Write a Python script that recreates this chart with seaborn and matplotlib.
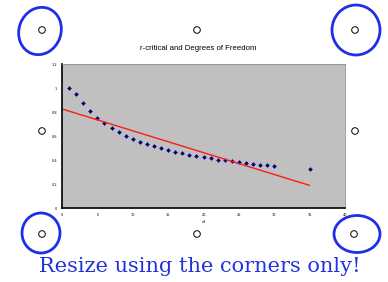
import numpy as np
import pandas as pd
import matplotlib
matplotlib.use("Agg")
import matplotlib.pyplot as plt
import seaborn as sns
from matplotlib.patches import Ellipse, Circle

# Data: critical r values (two-tailed, alpha = .05) by degrees of freedom
df_vals = [1, 2, 3, 4, 5, 6, 7, 8, 9, 10, 11, 12, 13, 14, 15, 16, 17, 18, 19, 20,
           21, 22, 23, 24, 25, 26, 27, 28, 29, 30, 35]
r_crit = [0.997, 0.950, 0.878, 0.811, 0.754, 0.707, 0.666, 0.632, 0.602, 0.576,
          0.553, 0.532, 0.514, 0.497, 0.482, 0.468, 0.456, 0.444, 0.433, 0.423,
          0.413, 0.404, 0.396, 0.388, 0.381, 0.374, 0.367, 0.361, 0.355, 0.349, 0.325]
x_ticks = [0, 5, 10, 15, 20, 25, 30, 35, 40]
y_ticks = [0, 0.2, 0.4, 0.6, 0.8, 1.0, 1.2]
y_tick_labels = ["0", "0.2", "0.4", "0.6", "0.8", "1", "1.2"]
title = "r-critical and Degrees of Freedom"
x_label = "df"
note = "Resize using the corners only!"

data = pd.DataFrame({"df": df_vals, "r": r_crit})
slope, intercept = np.polyfit(df_vals, r_crit, 1)
trend = pd.DataFrame({"df": [0, max(df_vals)]})
trend["r"] = intercept + slope * trend["df"]

sns.set_style("white")
W, H = 388, 282
fig = plt.figure(figsize=(W / 100, H / 100), dpi=100)
fig.patch.set_facecolor("white")

ax = fig.add_axes([62 / W, (H - 208) / H, (345 - 62) / W, (208 - 64) / H])
ax.set_facecolor("#c0c0c0")
sns.lineplot(data=trend, x="df", y="r", ax=ax, color="#ff1a1a", linewidth=1.0)
sns.scatterplot(data=data, x="df", y="r", ax=ax, marker="D", s=4, color="#000080",
                edgecolor="#000080", linewidth=0.3)
ax.set_xlim(0, 40)
ax.set_ylim(0, 1.2)
ax.set_xticks(x_ticks)
ax.set_xticklabels([str(t) for t in x_ticks], fontsize=2.5)
ax.set_yticks(y_ticks)
ax.set_yticklabels(y_tick_labels, fontsize=2.5)
ax.tick_params(axis="both", length=1.5, width=0.6, pad=2, colors="black", direction="out")
ax.set_xlabel(x_label, fontsize=3, labelpad=2)
ax.set_ylabel("")
for side in ["left", "bottom"]:
    ax.spines[side].set_color("black")
    ax.spines[side].set_linewidth(1.2)
for side in ["top", "right"]:
    ax.spines[side].set_color("#909090")
    ax.spines[side].set_linewidth(0.6)
ax.grid(False)

# overlay in pixel coordinates
ov = fig.add_axes([0, 0, 1, 1], facecolor="none")
ov.set_xlim(0, W)
ov.set_ylim(H, 0)
ov.axis("off")

ov.text(198, 48, title, ha="center", va="center", fontsize=5.6,
        family="Liberation Sans", color="black")

handles = [(42, 30), (197, 30), (355, 30), (42, 131), (355, 131),
           (42, 234), (197, 234), (354, 234)]
for (hx, hy) in handles:
    ov.add_patch(Circle((hx, hy), 3.3, facecolor="white", edgecolor="black", lw=0.7, zorder=5))

ellipses = [((40, 31), 42, 48, 20), ((356, 30), 48, 50, 0),
            ((41, 233), 38, 40, 0), ((357, 234), 46, 37, 0)]
for (c, w, h, ang) in ellipses:
    ov.add_patch(Ellipse(c, w, h, angle=ang, fill=False, edgecolor="#1f2eea", lw=2.0, zorder=6))

ov.text(200, 267, note, ha="center", va="center", fontsize=15,
        family="DejaVu Serif", color="#2233dd")

fig.savefig("out.png", dpi=100, facecolor="white")
